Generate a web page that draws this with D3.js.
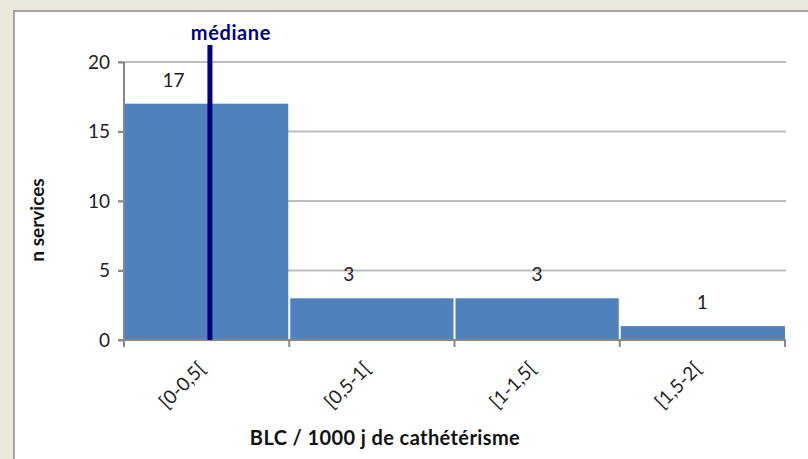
<!DOCTYPE html>
<html>
<head>
  <meta charset="utf-8">
  <style>
    body { margin: 0; background: #ECE9DC; }
    #svg { display: block; }
    #svg text { font-family: Lato, "Open Sans", sans-serif; }
  </style>
  <script src="https://d3js.org/d3.v7.min.js"></script>
</head>
<body>
  <svg id="svg" width="808" height="459"></svg>
  <script>
    let categories = ["[0-0,5[", "[0,5-1[", "[1-1,5[", "[1,5-2["];
    let counts = [17, 3, 3, 1];
    let yTicks = [0, 5, 10, 15, 20];
    let median = 0.26;      // BLC / 1000 j
    let binEdges = [0, 2];  // value range covered by the bins

    // manual nudges of the value labels (first two moved left of centre)
    let labelShift = [-33, -23, 0, 0];

    let svg = d3.select("#svg");

    // white chart panel with gray frame
    svg.append("rect")
      .attr("x", 14).attr("y", 11)
      .attr("width", 800).attr("height", 460)
      .attr("fill", "white")
      .attr("stroke", "#a4a4a4")
      .attr("stroke-width", 2);

    let plotLeft = 124, plotRight = 785, plotTop = 62, plotBottom = 340;

    let x = d3.scaleBand().domain(categories).range([plotLeft, plotRight]).padding(0);
    let xv = d3.scaleLinear().domain(binEdges).range([plotLeft, plotRight]);
    let y = d3.scaleLinear().domain([0, 20]).range([plotBottom, plotTop]);

    // gridlines
    svg.selectAll(".grid")
      .data(yTicks.filter(d => d > 0))
      .enter()
      .append("line")
      .attr("x1", plotLeft - 6).attr("x2", plotRight + 1)
      .attr("y1", d => y(d)).attr("y2", d => y(d))
      .attr("stroke", "#bdbdbd")
      .attr("stroke-width", 2);

    // bars
    svg.selectAll(".bar")
      .data(counts)
      .enter()
      .append("rect")
      .attr("x", (d, i) => x(categories[i]) + (i > 0 ? 1 : 0))
      .attr("width", (d, i) => x.bandwidth() - (i > 0 ? 1 : 0) - (i < counts.length - 1 ? 1 : 0))
      .attr("y", d => y(d))
      .attr("height", d => y(0) - y(d))
      .attr("fill", "#4F81BD");

    // value labels
    svg.selectAll(".val")
      .data(counts)
      .enter()
      .append("text")
      .attr("x", (d, i) => x(categories[i]) + x.bandwidth() / 2 + labelShift[i])
      .attr("y", d => y(d) - 17)
      .attr("text-anchor", "middle")
      .style("font-size", "19px")
      .attr("fill", "#222")
      .text(d => d);

    // y axis
    let yAxis = d3.axisLeft(y).tickValues(yTicks).tickSize(6).tickPadding(8);
    let gy = svg.append("g").attr("transform", `translate(${plotLeft},0)`).call(yAxis);
    gy.select(".domain").attr("stroke", "#888").attr("stroke-width", 2).attr("d", `M0,${plotTop}V${plotBottom}`);
    gy.selectAll(".tick line").attr("stroke", "#888").attr("stroke-width", 2);
    gy.selectAll(".tick text").style("font-size", "19px").attr("fill", "#222")
      .style("font-family", "Lato, 'Open Sans', sans-serif");

    // x axis
    let gx = svg.append("g").attr("transform", `translate(0,${plotBottom})`);
    gx.append("line")
      .attr("x1", plotLeft - 6).attr("x2", plotRight + 1)
      .attr("stroke", "#888").attr("stroke-width", 2);
    gx.selectAll(".xt")
      .data(d3.range(categories.length + 1))
      .enter()
      .append("line")
      .attr("x1", i => plotLeft + i * x.bandwidth())
      .attr("x2", i => plotLeft + i * x.bandwidth())
      .attr("y1", 0).attr("y2", 7)
      .attr("stroke", "#888").attr("stroke-width", 2);
    gx.selectAll(".xl")
      .data(categories)
      .enter()
      .append("text")
      .attr("transform", d => `translate(${x(d) + x.bandwidth() / 2},${30}) rotate(-45)`)
      .attr("text-anchor", "end")
      .style("font-size", "19px")
      .attr("fill", "#222")
      .text(d => d);

    // median line
    svg.append("line")
      .attr("x1", xv(median)).attr("x2", xv(median))
      .attr("y1", 45).attr("y2", plotBottom)
      .attr("stroke", "#000080")
      .attr("stroke-width", 5);
    svg.append("text")
      .attr("x", xv(median) + 21).attr("y", 40)
      .attr("text-anchor", "middle")
      .attr("fill", "#000080")
      .style("font-size", "20px")
      .style("font-weight", "bold")
      .style("letter-spacing", "0.6px")
      .text("médiane");

    // axis titles
    svg.append("text")
      .attr("x", 385).attr("y", 445)
      .attr("text-anchor", "middle")
      .style("font-size", "20px")
      .style("font-weight", "bold")
      .style("letter-spacing", "0.4px")
      .attr("fill", "#111")
      .text("BLC / 1000 j de cathétérisme");
    svg.append("text")
      .attr("transform", "translate(44,220) rotate(-90)")
      .attr("text-anchor", "middle")
      .style("font-size", "19px")
      .style("font-weight", "bold")
      .attr("fill", "#111")
      .text("n services");
  </script>
</body>
</html>
